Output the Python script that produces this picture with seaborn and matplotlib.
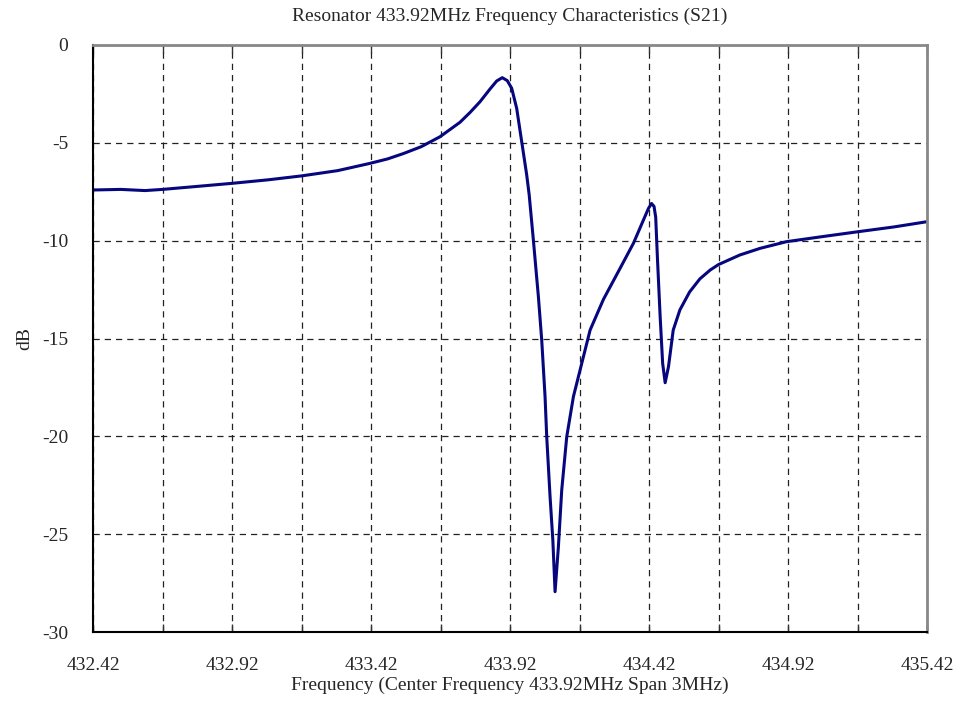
import numpy as np
import pandas as pd
import matplotlib
matplotlib.use('Agg')
import matplotlib.pyplot as plt
from matplotlib.ticker import FixedLocator
import seaborn as sns

# ── Data ───────────────────────────────────────────────────────────────────────
freq_mhz = [432.42, 432.52, 432.607, 432.67, 432.80, 432.92, 433.05, 433.17,
            433.30, 433.416, 433.48, 433.536, 433.60, 433.668, 433.74, 433.776,
            433.812, 433.848, 433.872, 433.892, 433.910, 433.926, 433.944, 433.962,
            433.980, 433.989, 434.004, 434.022, 434.034, 434.046, 434.052, 434.064,
            434.074, 434.082, 434.094, 434.106, 434.124, 434.148, 434.172, 434.208,
            434.256, 434.316, 434.364, 434.40, 434.418, 434.429, 434.438, 434.444,
            434.450, 434.460, 434.469, 434.478, 434.49, 434.507, 434.531, 434.566,
            434.603, 434.64, 434.67, 434.747, 434.82, 434.915, 435.05, 435.173,
            435.30, 435.42]
s21_db = [-7.41, -7.38, -7.44, -7.38, -7.22, -7.07, -6.89, -6.69,
          -6.42, -6.05, -5.82, -5.55, -5.20, -4.69, -3.95, -3.45,
          -2.90, -2.25, -1.84, -1.67, -1.82, -2.21, -3.24, -4.94,
          -6.64, -7.67, -9.97, -12.86, -15.08, -17.97, -20.02, -23.08,
          -25.30, -27.94, -25.64, -22.74, -20.02, -17.97, -16.61, -14.57,
          -13.00, -11.41, -10.13, -8.94, -8.35, -8.10, -8.25, -8.80,
          -10.82, -13.88, -16.27, -17.26, -16.44, -14.57, -13.54, -12.62,
          -11.95, -11.50, -11.22, -10.73, -10.39, -10.05, -9.78, -9.54,
          -9.30, -9.03]

xtick_vals = [432.42, 432.92, 433.42, 433.92, 434.42, 434.92, 435.42]
ytick_vals = [0, -5, -10, -15, -20, -25, -30]

df = pd.DataFrame({'freq': freq_mhz, 'dB': s21_db})

# ── Style ──────────────────────────────────────────────────────────────────────
sns.set_theme(style='white')
plt.rcParams['font.family'] = ['Liberation Serif', 'DejaVu Serif']

fig = plt.figure(figsize=(9.56, 7.02), dpi=100)
ax = fig.add_axes([0.0973, 0.0997, 0.8724, 0.8362])

sns.lineplot(data=df, x='freq', y='dB', ax=ax, color='#06067f', lw=2.2)

ax.set_xlim(432.42, 435.42)
ax.set_ylim(-30, 0)
ax.xaxis.set_major_locator(FixedLocator(xtick_vals))
ax.xaxis.set_minor_locator(FixedLocator([v + 0.25 for v in xtick_vals[:-1]]))
ax.set_xticklabels([f'{v:.2f}' for v in xtick_vals])
ax.yaxis.set_major_locator(FixedLocator(ytick_vals))
ax.set_yticklabels([str(v) for v in ytick_vals])

ax.grid(True, which='both', axis='x', ls=(0, (5, 4)), color='#222222', lw=0.9)
ax.grid(True, which='major', axis='y', ls=(0, (5, 4)), color='#222222', lw=0.9)

ax.tick_params(axis='x', which='both', direction='in', top=True, bottom=True,
               length=6, width=1, color='#333333', pad=18, labelsize=14)
ax.tick_params(axis='y', which='both', length=0, pad=18, labelsize=14)

for side in ['left', 'bottom']:
    ax.spines[side].set_color('black')
    ax.spines[side].set_linewidth(1.5)
for side in ['top', 'right']:
    ax.spines[side].set_color('#888888')
    ax.spines[side].set_linewidth(2)

ax.set_xlabel('Frequency (Center Frequency 433.92MHz Span 3MHz)', fontsize=14, labelpad=2)
ax.set_ylabel('dB', fontsize=14, labelpad=6)
ax.set_title('Resonator 433.92MHz Frequency Characteristics (S21)', fontsize=14, pad=17)

fig.savefig('out.png', dpi=100)
